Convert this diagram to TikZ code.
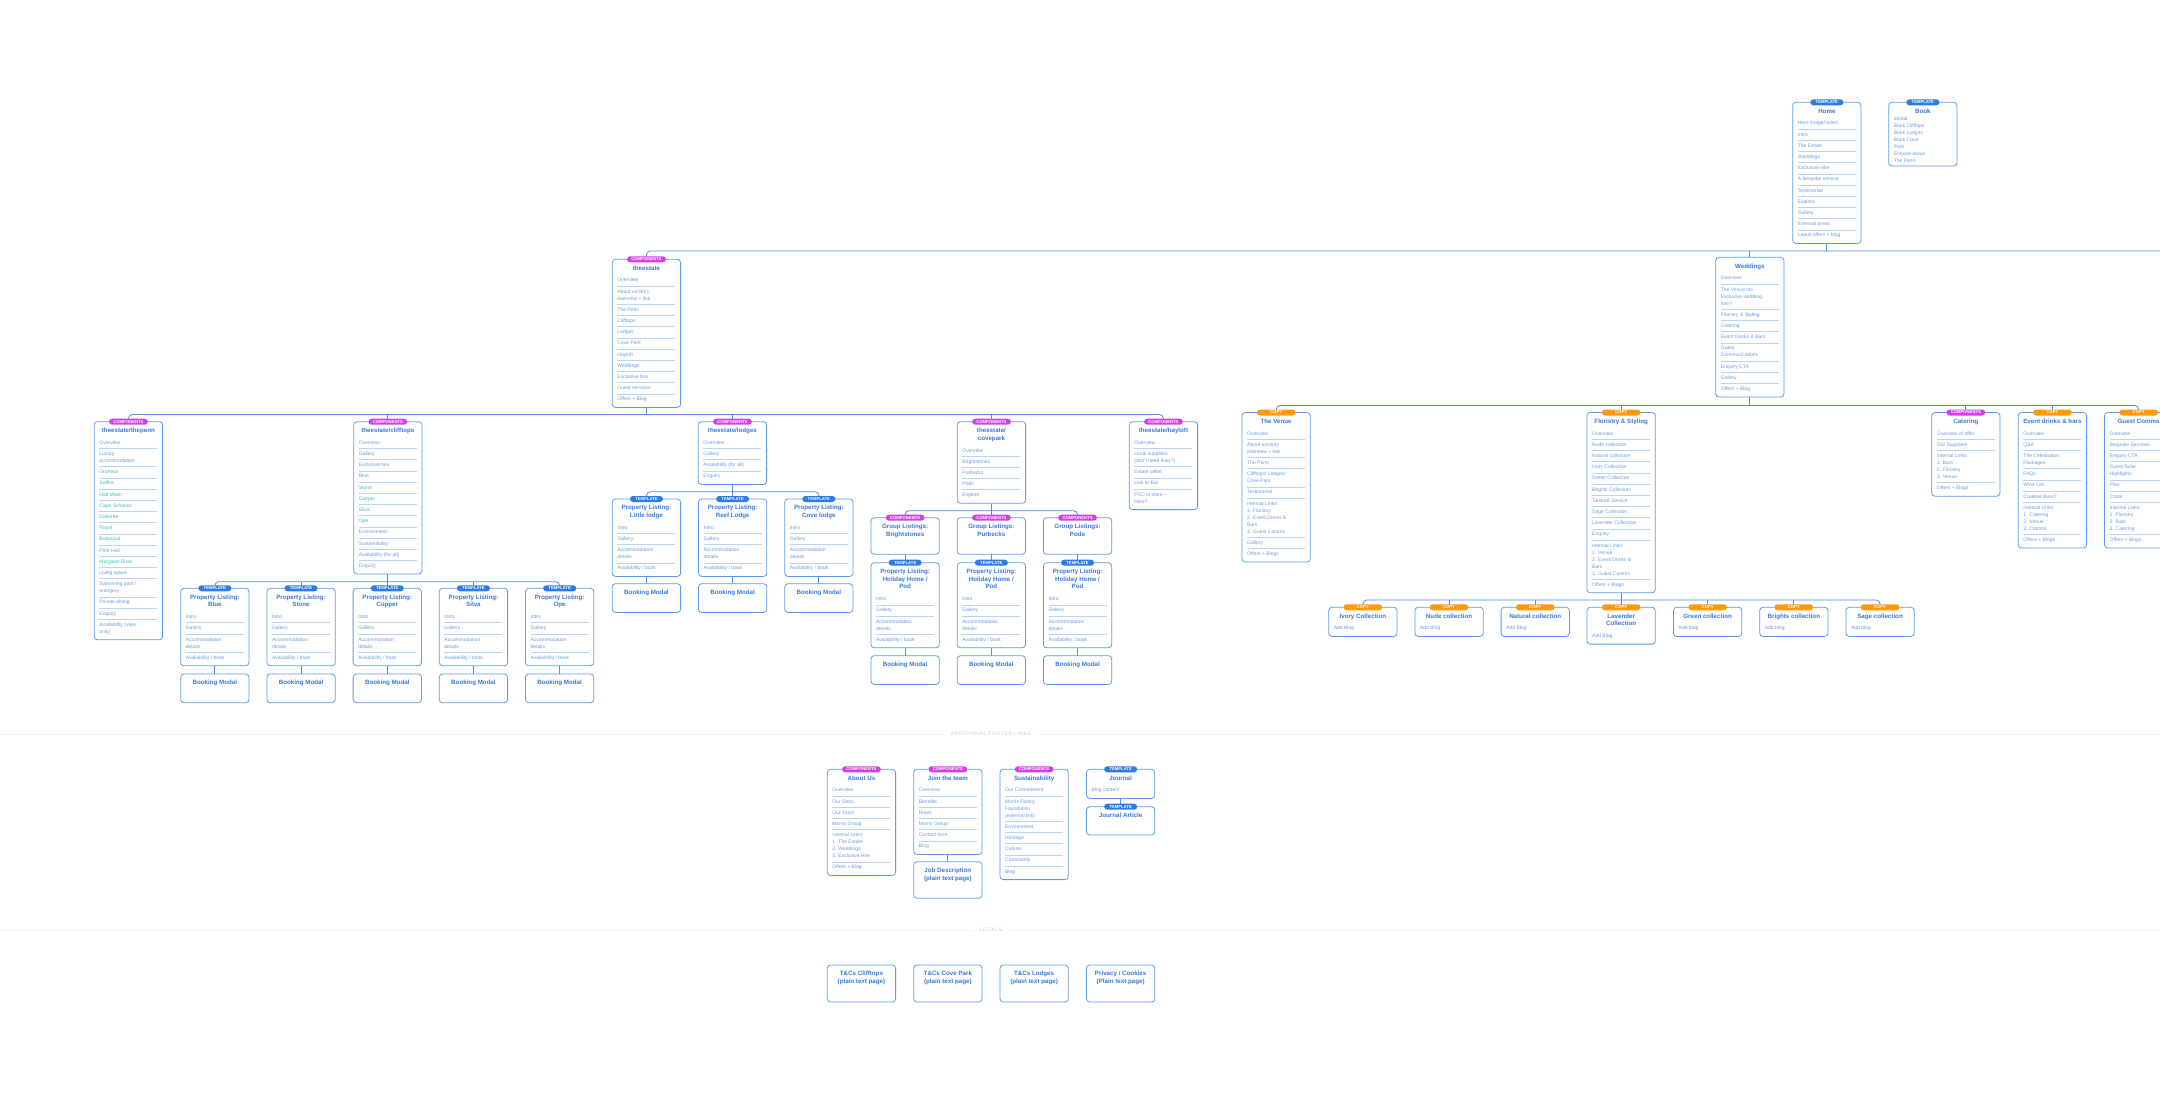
\documentclass[tikz,border=0pt]{standalone}
\usepackage{fontspec}
\setmainfont{Liberation Sans}
\usetikzlibrary{backgrounds}
\definecolor{boxc}{HTML}{5B9BEA}
\definecolor{ttlc}{HTML}{3A78D6}
\definecolor{itmc}{HTML}{6E9CDF}
\definecolor{sepc}{HTML}{BCD3F3}
\definecolor{connc}{HTML}{4F8DE6}
\definecolor{tbc}{HTML}{2F7BE5}
\definecolor{cbc}{HTML}{D43FE6}
\definecolor{obc}{HTML}{FF9A0D}
\definecolor{grn}{HTML}{3FBFA8}
\definecolor{secc}{HTML}{C3CAD6}
\definecolor{secl}{HTML}{F1F3F7}

\newbox\zbox
\newcommand\zs[1]{\setbox\zbox\hbox{#1}\ht\zbox=0pt \dp\zbox=0pt \box\zbox}
\newif\iffirstitm
\newcommand\itmfont{\fontsize{5}{7}\selectfont}
\newcommand\ttlfont{\fontsize{6.2}{7.7}\selectfont\bfseries}
\newcommand\ttl[2][1]{%
  \vbox to \dimexpr 15.2pt+7.7pt*(#1-1)\relax{\vskip10.7pt\relax
    \hbox to\hsize{\hss\hbox to 0pt{\hss\zs{\vtop{\ttlfont\hsize=100pt\lineskiplimit=-\maxdimen\parindent=0pt\parskip=0pt\centering\leavevmode\color{ttlc}#2\par}}\hss}\hss}\vss}}
\newcommand\itm[2][1]{%
  \iffirstitm\global\firstitmfalse\else{\color{sepc}\hrule height .45pt}\vskip-.45pt\relax\fi
  \vbox to \dimexpr 11.2pt+7pt*(#1-1)\relax{\vskip7.4pt\relax
    \hbox to\hsize{\rlap{\zs{\vtop{\itmfont\hsize=100pt\lineskiplimit=-\maxdimen\parindent=0pt\parskip=0pt\raggedright\leavevmode\color{itmc}#2\par}}}\hss}\vss}}
\newcommand\pgc[3][2.7pt]{\vbox{\offinterlineskip\hsize=58pt\global\firstitmtrue #2#3\vskip#1\relax}}

\newcommand\tb[1]{\node[badge,fill=tbc,minimum width=33pt] (#1-b) at (#1.north) {TEMPLATE};}
\newcommand\cb[1]{\node[badge,fill=cbc,minimum width=38.7pt] (#1-b) at (#1.north) {COMPONENTS};}
\newcommand\ob[1]{\node[badge,fill=obc,minimum width=38.7pt] (#1-b) at (#1.north) {COPY};}
\newcommand\plist[4]{\node[pbox] (#1) at (#2,#3) {\pgc{\ttl[2]{Property Listing:\\#4}}{\itm{Intro}\itm{Gallery}\itm[2]{Accommodation\\details}\itm{Availability / book}}}; \tb{#1}}
\newcommand\hlist[3]{\node[pbox] (#1) at (#2,#3) {\pgc{\ttl[3]{Property Listing:\\Holiday Home /\\Pod}}{\itm{Intro}\itm{Gallery}\itm[2]{Accommodation\\details}\itm{Availability / book}}}; \tb{#1}}
\newcommand\bmodal[3]{\node[pbox] (#1) at (#2,#3) {\pgc[13.5pt]{\ttl{Booking Modal}}{}};}
\newcommand\coll[5]{\node[pbox] (#1) at (#2,607.3) {\pgc{\ttl[#3]{#4}}{\itm{#5}}}; \ob{#1}}

\begin{document}
\begin{tikzpicture}[x=1pt,y=-1pt,
  pbox/.style={draw=boxc,line width=0.8pt,rounded corners=3.2pt,fill=white,inner xsep=5.15pt,inner ysep=0pt,anchor=north west,outer sep=0pt},
  badge/.style={rounded corners=3pt,minimum height=6pt,inner sep=0pt,text=white,font=\fontsize{4.2}{4.2}\selectfont\bfseries},
  conn/.style={draw=connc,line width=0.8pt,rounded corners=4pt},
  seclbl/.style={text=secc,font=\fontsize{5}{5}\selectfont\addfontfeatures{LetterSpace=12},inner xsep=8pt},
  secline/.style={draw=secl,line width=0.6pt}]
\useasboundingbox (0,0) rectangle (2160,1106);

% ---------- top level
\node[pbox] (home) at (1792.7,102.3) {\pgc{\ttl{Home}}{\itm{Hero image/Video}\itm{Intro}\itm{The Estate}\itm{Weddings}\itm{Exclusive Hire}\itm{A bespoke service}\itm{Testimonial}\itm{Explore}\itm{Gallery}\itm{External press}\itm{Latest offers + blog}}}; \tb{home}
\node[pbox] (book) at (1888.7,102.3) {\pgc[-0.6pt]{\ttl{Book}}{\vskip-4.1pt\relax\itm[7]{Modal\\Book Clifftops\\Book Lodges\\Book Cove\\Park\\Enquire about\\The Penn}}}; \tb{book}

\node[pbox] (theestate) at (612.3,259.3) {\pgc{\ttl{theestate}}{\itm{Overview}\itm[2]{About us/story\\overview + link}\itm{The Penn}\itm{Clifftops}\itm{Lodges}\itm{Cove Park}\itm{Hayloft}\itm{Weddings}\itm{Exclusive hire}\itm{Guest services}\itm{Offers + Blog}}}; \cb{theestate}

\node[pbox] (weddings) at (1715.7,257.3) {\pgc{\ttl{Weddings}}{\itm{Overview}\itm[3]{The Venue inc.\\Exclusive wedding\\hire?}\itm{Floristry \& Styling}\itm{Catering}\itm{Event Drinks \& Bars}\itm[2]{Guest\\Communications}\itm{Enquiry CTA}\itm{Gallery}\itm{Offers + Blog}}};

% ---------- estate children
\node[pbox] (thepenn) at (94.3,421.7) {\pgc{\ttl{theestate/thepenn}}{\itm{Overview}\itm[2]{Luxury\\accommodation}\itm{\color{grn}Orpheus}\itm{\color{grn}Saffire}\itm{\color{grn}Half Moon}\itm{\color{grn}Cape Schanck}\itm{\color{grn}Daintree}\itm{\color{grn}Royal}\itm{\color{grn}Botanical}\itm{\color{grn}Print Hall}\itm{\color{grn}Margaret River}\itm{Living space}\itm[2]{Swimming pool /\\orangery}\itm{Private dining}\itm{Enquiry}\itm[2]{Availability (view\\only)}}}; \cb{thepenn}

\node[pbox] (clifftops) at (353.7,421.7) {\pgc{\ttl{theestate/clifftops}}{\itm{Overview}\itm{Gallery}\itm{Exclusive hire}\itm{\color{grn}Blue}\itm{\color{grn}Stone}\itm{\color{grn}Copper}\itm{\color{grn}Silva}\itm{\color{grn}Ope}\itm{Environment}\itm{Sustainability}\itm{Availability (for all)}\itm{Enquiry}}}; \cb{clifftops}

\node[pbox] (lodges) at (698.3,421.7) {\pgc{\ttl{theestate/lodges}}{\itm{Overview}\itm{Gallery}\itm{Availability (for all)}\itm{Enquiry}}}; \cb{lodges}

\node[pbox] (covepark) at (957.3,421.7) {\pgc{\ttl[2]{theestate/\\covepark}}{\itm{Overview}\itm{Brightstones}\itm{Purbecks}\itm{Pods}\itm{Explore}}}; \cb{covepark}

\node[pbox] (hayloft) at (1129.3,421.7) {\pgc{\ttl{theestate/hayloft}}{\itm{Overview}\itm[2]{Local suppliers\\(don't need links?)}\itm{Estate cellar}\itm{Link to Eat}\itm[2]{PCC in store --\\links?}}}; \cb{hayloft}

% clifftops listings
\plist{blue}{180.7}{588.3}{Blue}
\plist{stone}{266.9}{588.3}{Stone}
\plist{copper}{353.1}{588.3}{Copper}
\plist{silva}{439.3}{588.3}{Silva}
\plist{ope}{525.5}{588.3}{Ope}
\bmodal{bmblue}{180.7}{674}
\bmodal{bmstone}{266.9}{674}
\bmodal{bmcopper}{353.1}{674}
\bmodal{bmsilva}{439.3}{674}
\bmodal{bmope}{525.5}{674}

% lodges listings
\plist{little}{612.3}{499}{Little lodge}
\plist{reef}{698.5}{499}{Reef Lodge}
\plist{cove}{784.7}{499}{Cove lodge}
\bmodal{bmlittle}{612.3}{583.7}
\bmodal{bmreef}{698.5}{583.7}
\bmodal{bmcove}{784.7}{583.7}

% cove park groups
\node[pbox] (gbright) at (871,517.7) {\pgc[13.7pt]{\ttl[2]{Group Listings:\\Brightstones}}{}}; \cb{gbright}
\node[pbox] (gpurb) at (957.2,517.7) {\pgc[13.7pt]{\ttl[2]{Group Listings:\\Purbecks}}{}}; \cb{gpurb}
\node[pbox] (gpods) at (1043.4,517.7) {\pgc[13.7pt]{\ttl[2]{Group Listings:\\Pods}}{}}; \cb{gpods}
\hlist{hbright}{871}{562.7}
\hlist{hpurb}{957.2}{562.7}
\hlist{hpods}{1043.4}{562.7}
\bmodal{bmbright}{871}{655.7}
\bmodal{bmpurb}{957.2}{655.7}
\bmodal{bmpods}{1043.4}{655.7}

% ---------- weddings children
\node[pbox] (venue) at (1242,412.5) {\pgc{\ttl{The Venue}}{\itm{Overview}\itm[2]{About us/story\\overview + link}\itm{The Penn}\itm[2]{Clifftops/ Lodges/\\Cove Park}\itm{Testimonial}\itm[5]{Internal Links:\\1. Floristry\\2. Event Drinks \&\\Bars\\3. Guest Comms}\itm{Gallery}\itm{Offers + Blogs}}}; \ob{venue}

\node[pbox] (floristry) at (1587,412.5) {\pgc{\ttl{Floristry \& Styling}}{\itm{Overview}\itm{Nude collection}\itm{Natural collection}\itm{Ivory Collection}\itm{Green Collection}\itm{Brights Collection}\itm{Tailored Service}\itm{Sage Collection}\itm{Lavender Collection}\itm{Enquiry}\itm[5]{Internal Links:\\1. Venue\\2. Event Drinks \&\\Bars\\3. Guest Comms}\itm{Offers + Blogs}}}; \ob{floristry}

\node[pbox] (catering) at (1931.7,412.5) {\pgc{\ttl{Catering}}{\itm{Overview of offer}\itm{Our Suppliers}\itm[4]{Internal Links:\\1. Bars\\2. Floristry\\3. Venue}\itm{Offers + Blogs}}}; \cb{catering}

\node[pbox] (drinks) at (2018.3,412.5) {\pgc{\ttl{Event drinks \& bars}}{\itm{Overview}\itm{Q\&A}\itm[2]{The Celebration\\Packages}\itm{FAQs}\itm{Wine List}\itm{Creative Bars?}\itm[4]{Internal Links:\\1. Catering\\2. Venue\\3. Comms}\itm{Offers + Blogs}}}; \ob{drinks}

\node[pbox] (comms) at (2104.5,412.5) {\pgc{\ttl{Guest Comms}}{\itm{Overview}\itm{Bespoke Services}\itm{Enquiry CTA}\itm[2]{Guest Suite\\Highlights}\itm{Plan}\itm{Costs}\itm[4]{Internal Links:\\1. Floristry\\2. Bars\\3. Catering}\itm{Offers + Blogs}}}; \ob{comms}

% collections
\coll{ivory}{1328.7}{1}{Ivory Collection}{Add Blog}
\coll{nude}{1414.9}{1}{Nude collection}{Add Blog}
\coll{natural}{1501.1}{1}{Natural collection}{Add Blog}
\coll{lavender}{1587}{2}{Lavender\\Collection}{Add Blog}
\coll{green}{1673.5}{1}{Green collection}{Add blog}
\coll{brights}{1759.7}{1}{Brights collection}{Add blog}
\coll{sage}{1845.9}{1}{Sage collection}{Add blog}

% ---------- footer links
\node[seclbl] (footlbl) at (991,734) {ADDITIONAL FOOTER LINKS};
\node[pbox] (aboutus) at (827.3,769.3) {\pgc{\ttl{About Us}}{\itm{Overview}\itm{Our Story}\itm{Our Team}\itm{Morris Group}\itm[4]{Internal Links:\\1. The Estate\\2. Weddings\\3. Exclusive Hire}\itm{Offers + Blog}}}; \cb{aboutus}
\node[pbox] (join) at (913.7,769.3) {\pgc{\ttl{Join the team}}{\itm{Overview}\itm{Benefits}\itm{Roles}\itm{Morris Group}\itm{Contact form}\itm{Blog}}}; \cb{join}
\node[pbox] (job) at (913.7,861.7) {\pgc[13.7pt]{\ttl[2]{Job Description\\(plain text page)}}{}};
\node[pbox] (sustain) at (1000,769.3) {\pgc{\ttl{Sustainability}}{\itm{Our Commitment}\itm[3]{Morris Family\\Foundation\\(external link)}\itm{Environment}\itm{Heritage}\itm{Culture}\itm{Community}\itm{Blog}}}; \cb{sustain}
\node[pbox] (journal) at (1086.5,769.3) {\pgc{\ttl{Journal}}{\itm{Blog content}}}; \tb{journal}
\node[pbox] (article) at (1086.5,806.7) {\pgc[13.1pt]{\ttl{Journal Article}}{}}; \tb{article}

% ---------- legals
\node[seclbl] (legallbl) at (991,930) {LEGALS};
\node[pbox] (tcclif) at (827.3,965) {\pgc[14.1pt]{\ttl[2]{T\&Cs Clifftops\\(plain text page)}}{}};
\node[pbox] (tccove) at (913.7,965) {\pgc[14.1pt]{\ttl[2]{T\&Cs Cove Park\\(plain text page)}}{}};
\node[pbox] (tclodges) at (1000,965) {\pgc[14.1pt]{\ttl[2]{T\&Cs Lodges\\(plain text page)}}{}};
\node[pbox] (privacy) at (1086.5,965) {\pgc[14.1pt]{\ttl[2]{Privacy / Cookies\\(Plain text page)}}{}};

% ---------- connectors
\begin{scope}[on background layer]
\fill[white] (0,0) rectangle (2160,1106);
\coordinate (topR) at (2175,251);
\coordinate (busE) at (0,414.5);
\coordinate (busP) at (0,581.7);
\coordinate (busL) at (0,491.7);
\coordinate (busCP) at (0,510.7);
\coordinate (busW) at (0,405.5);
\coordinate (busC) at (0,600);
\coordinate (footL) at (0,734);
\coordinate (footR) at (2160,734);
\coordinate (legL) at (0,930);
\coordinate (legR) at (2160,930);
\draw[secline] (footL) -- (footlbl.west);
\draw[secline] (footlbl.east) -- (footR);
\draw[secline] (legL) -- (legallbl.west);
\draw[secline] (legallbl.east) -- (legR);

\draw[conn] (theestate.north) |- (topR);
\draw[conn] (home.south) -- (home.south |- topR);
\draw[conn] (weddings.north) -- (weddings.north |- topR);

\draw[conn] (thepenn.north) |- (hayloft.north |- busE) -- (hayloft.north);
\draw[conn] (theestate.south) -- (theestate.south |- busE);
\foreach \n in {clifftops,lodges,covepark} \draw[conn] (\n.north) -- (\n.north |- busE);

\draw[conn] (blue.north) |- (ope.north |- busP) -- (ope.north);
\draw[conn] (clifftops.south) -- (clifftops.south |- busP);
\foreach \n in {stone,copper,silva} \draw[conn] (\n.north) -- (\n.north |- busP);
\foreach \a/\b in {blue/bmblue,stone/bmstone,copper/bmcopper,silva/bmsilva,ope/bmope} \draw[conn] (\a.south) -- (\b.north);

\draw[conn] (little.north) |- (cove.north |- busL) -- (cove.north);
\draw[conn] (lodges.south) -- (lodges.south |- busL);
\draw[conn] (reef.north) -- (reef.north |- busL);
\foreach \a/\b in {little/bmlittle,reef/bmreef,cove/bmcove} \draw[conn] (\a.south) -- (\b.north);

\draw[conn] (gbright.north) |- (gpods.north |- busCP) -- (gpods.north);
\draw[conn] (covepark.south) -- (covepark.south |- busCP);
\draw[conn] (gpurb.north) -- (gpurb.north |- busCP);
\foreach \a/\b in {gbright/hbright,gpurb/hpurb,gpods/hpods,hbright/bmbright,hpurb/bmpurb,hpods/bmpods} \draw[conn] (\a.south) -- (\b.north);

\draw[conn] (venue.north) |- (comms.north |- busW) -- (comms.north);
\draw[conn] (weddings.south) -- (weddings.south |- busW);
\foreach \n in {floristry,catering,drinks} \draw[conn] (\n.north) -- (\n.north |- busW);

\draw[conn] (ivory.north) |- (sage.north |- busC) -- (sage.north);
\draw[conn] (floristry.south) -- (floristry.south |- busC);
\foreach \n in {nude,natural,lavender,green,brights} \draw[conn] (\n.north) -- (\n.north |- busC);

\draw[conn] (join.south) -- (job.north);
\draw[conn] (journal.south) -- (article.north);
\end{scope}
\end{tikzpicture}
\end{document}
